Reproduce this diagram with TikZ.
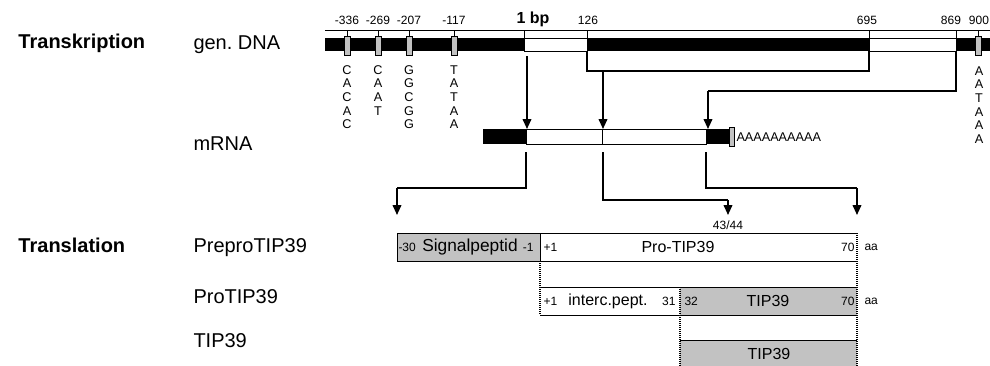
\documentclass[tikz,border=0pt]{standalone}
\usepackage{fontspec}
\setmainfont{Liberation Sans}
\usetikzlibrary{arrows.meta}
\definecolor{boxgray}{gray}{0.76}

\tikzset{
    rowlabel/.style = {anchor=west, inner sep=0pt, font=\fontsize{15}{18}\selectfont},
    headlabel/.style = {rowlabel, font=\fontsize{15}{18}\selectfont\bfseries},
    bpnum/.style = {inner sep=0pt, font=\fontsize{9}{10}\selectfont},
    seq/.style = {anchor=north, align=center, inner sep=0pt, font=\fontsize{9.5}{10.2}\selectfont},
    boxtext/.style = {inner sep=0pt, font=\fontsize{12}{14}\selectfont},
    arr/.style = {-{Triangle[width=6.5pt,length=7.5pt]}, line width=1.3pt},
    link/.style = {line width=0.8pt},
    cut/.style = {line width=1.7pt, dash pattern=on 1pt off 0.5pt}
}

\begin{document}
\begin{tikzpicture}[x=0.75pt, y=-0.75pt, line width=0.75pt]
    \useasboundingbox (0,0) rectangle (990,365);

    % left labels
    \node[headlabel] (transkription) at (18,43) {Transkription};
    \node[rowlabel] (gendna) at (193,45) {gen.\ DNA};
    \node[rowlabel] (mrnalabel) at (193,144) {mRNA};
    \node[headlabel] (translation) at (18,245) {Translation};
    \node[rowlabel] (prepro) at (193,248) {PreproTIP39};
    \node[rowlabel] (pro) at (193,297) {ProTIP39};
    \node[rowlabel] (tip) at (193,341) {TIP39};

    % gen. DNA
    \draw (325,30) -- (990,30);
    \fill[black] (325,38) rectangle (990,51);
    \draw[fill=white] (524,38) rectangle (587,51);
    \draw[fill=white] (869,38) rectangle (956,51);
    \foreach \x in {524,587,869,956}
        \draw (\x,30) -- (\x,38);
    \foreach \x in {347,378,409,454,978} {
        \draw (\x,30) -- (\x,36);
        \draw[fill=boxgray, line width=0.6pt] (\x-3,36) rectangle (\x+3,55);
    }
    \node[bpnum] (p336) at (347,20) {-336};
    \node[bpnum] (p269) at (378,20) {-269};
    \node[bpnum] (p207) at (409,20) {-207};
    \node[bpnum] (p117) at (454,20) {-117};
    \node[inner sep=0pt, font=\fontsize{12}{14}\selectfont\bfseries] (p1) at (533,19) {1 bp};
    \node[bpnum] (p126) at (588,20) {126};
    \node[bpnum] (p695) at (867,20) {695};
    \node[bpnum] (p869) at (951,20) {869};
    \node[bpnum] (p900) at (979,20) {900};

    % boxes below the promoter marks
    \node[seq] (caca) at (347,65) {C\\A\\C\\A\\C};
    \node[seq] (caat) at (378,65) {C\\A\\A\\T};
    \node[seq] (ggcg) at (409,65) {G\\G\\C\\G\\G};
    \node[seq] (tata) at (454,65) {T\\A\\T\\A\\A};
    \node[seq] (aata) at (979,66) {A\\A\\T\\A\\A\\A};

    % splicing of the introns
    \coordinate (ex1) at (527,56);
    \coordinate (in1) at (603,71);
    \coordinate (in2) at (708,91);
    \draw[link] (587,51) -- (587,71) -- (869,71) -- (869,51);
    \draw[link] (956,51) -- (956,91) -- (in2);

    % mRNA
    \fill[black] (483,129) rectangle (526,144);
    \draw[fill=white] (526,129) rectangle (706,144);
    \fill[black] (706,129) rectangle (729,144);
    \draw (602,129) -- (602,144);
    \draw[fill=boxgray, line width=0.6pt] (729,127) rectangle (734,146);
    \node[anchor=west, inner sep=0pt, font=\fontsize{9.5}{11}\selectfont] (polya) at (736,137) {AAAAAAAAAA};
    \coordinate (m1) at (527,129);
    \coordinate (m2) at (603,129);
    \coordinate (m3) at (708,129);
    \draw[arr] (ex1) -- (m1);
    \draw[arr] (in1) -- (m2);
    \draw[arr] (in2) -- (m3);

    % from mRNA to the peptides
    \coordinate (t1) at (397,215);
    \coordinate (t2) at (728,215);
    \coordinate (t3) at (857,215);
    \draw[link] (526,152) |- (397,188);
    \draw[arr] (397,188) -- (t1);
    \draw[link] (603,152) |- (728,200);
    \draw[arr] (728,200) -- (t2);
    \draw[link] (706,152) |- (857,188);
    \draw[arr] (857,188) -- (t3);
    \node[bpnum] (cleave) at (728,225) {43/44};

    % PreproTIP39
    \draw[fill=boxgray] (397,233) rectangle (540,261);
    \draw (540,233) -- (857,233);
    \draw (540,261) -- (857,261);
    \node[bpnum, anchor=west] (sp30) at (398,247) {-30};
    \node[inner sep=0pt, font=\fontsize{13}{16}\selectfont] (signal) at (470,247) {Signalpeptid};
    \node[bpnum, anchor=east] (sp1) at (534,247) {-1};
    \node[bpnum, anchor=west] (pp1) at (543,247) {+1};
    \node[boxtext] (protip) at (678,247) {Pro-TIP39};
    \node[bpnum, anchor=east] (pp70) at (855,247) {70};
    \node[bpnum, anchor=west] (aa1) at (864,247) {aa};

    % ProTIP39
    \fill[boxgray] (680,287) rectangle (857,315);
    \draw (540,287) -- (857,287);
    \draw (540,315) -- (857,315);
    \node[bpnum, anchor=west] (ip1) at (543,301) {+1};
    \node[boxtext] (interc) at (608,301) {interc.pept.};
    \node[bpnum, anchor=east] (ip31) at (676,301) {31};
    \node[bpnum, anchor=west] (tp32) at (684,301) {32};
    \node[boxtext] (tip1) at (768,301) {TIP39};
    \node[bpnum, anchor=east] (tp70) at (855,301) {70};
    \node[bpnum, anchor=west] (aa2) at (864,301) {aa};

    % TIP39
    \fill[boxgray] (680,340) rectangle (857,366);
    \draw (680,340) -- (857,340);
    \node[boxtext] (tip2) at (769,354) {TIP39};

    % cleavage sites
    \draw[cut] (540,261) -- (540,315);
    \draw[cut] (680,287) -- (680,366);
    \draw[cut] (857,233) -- (857,366);
\end{tikzpicture}
\end{document}
